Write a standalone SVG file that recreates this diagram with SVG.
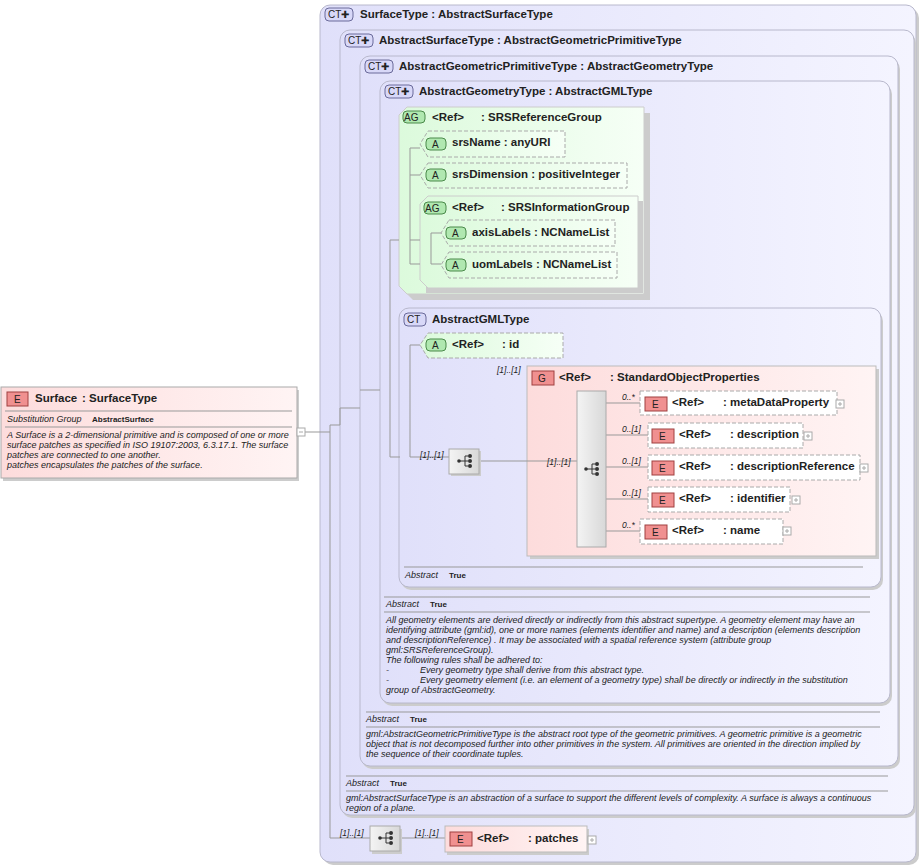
<svg xmlns="http://www.w3.org/2000/svg" width="920" height="866" viewBox="0 0 920 866">
<defs>
<linearGradient id="ct" x1="0" y1="0" x2="1" y2="0"><stop offset="0" stop-color="#e0e0fa"/><stop offset="1" stop-color="#f4f4ff"/></linearGradient>
<linearGradient id="gr" x1="0" y1="0" x2="1" y2="0"><stop offset="0" stop-color="#dcfadc"/><stop offset="1" stop-color="#f6fff6"/></linearGradient>
<linearGradient id="rd" x1="0" y1="0" x2="1" y2="0"><stop offset="0" stop-color="#fddcdc"/><stop offset="1" stop-color="#fff4f4"/></linearGradient>
<linearGradient id="sq" x1="0" y1="0" x2="1" y2="0"><stop offset="0" stop-color="#f4f4f4"/><stop offset="1" stop-color="#d8d8d8"/></linearGradient>
<g id="seqico"><circle cx="-6" cy="0" r="1.8" fill="#333"/><path d="M-6 0H0M0 -5V5M0 -5H3M0 0H3M0 5H3" stroke="#333" fill="none"/><circle cx="5" cy="-5" r="2" fill="#333"/><circle cx="5" cy="0" r="2" fill="#333"/><circle cx="5" cy="5" r="2" fill="#333"/></g>
<g id="plus"><rect x="0" y="0" width="8" height="8" fill="#fff" stroke="#aaa"/><path d="M2 4H6M4 2V6" stroke="#aaa"/></g>
</defs>
<style>
text{font-family:"Liberation Sans",Arial,sans-serif;fill:#222}
.h{font-size:11.5px;font-weight:bold}
.d{font-size:9px;font-style:italic}
.m{font-size:8.5px;font-style:italic}
.ct{fill:url(#ct);stroke:#b8b8cc}
.ln{stroke:#999;fill:none}
.sep{stroke:#999}
.ag{fill:url(#gr);stroke:#ccc}
.att{fill:url(#gr);stroke:#aaa;stroke-dasharray:4 2}
.el{fill:#fff;stroke:#aaa;stroke-dasharray:4 2}
.bc{fill:#d8d8f8;stroke:#6a6a9a}
.bg{fill:#b0e8b0;stroke:#4a8a4a}
.be{fill:#f09090;stroke:#a04040}
.bt{font-size:10px;font-weight:normal}
.sh{fill:#ccc}
</style>

<g id="SurfaceType">
<rect x="323" y="8" width="596" height="857" rx="10" class="sh"/>
<rect x="320" y="5" width="596" height="857" rx="10" class="ct"/>
<rect x="325" y="8" width="28" height="13" rx="4" class="bc"/><text x="328" y="18" class="h bt">CT✚</text>
<text x="360" y="18" class="h">SurfaceType : AbstractSurfaceType</text>
</g>

<g id="AbstractSurfaceType">
<rect x="342" y="33" width="574" height="785" rx="10" class="sh"/>
<rect x="340" y="30" width="574" height="785" rx="10" class="ct"/>
<rect x="345" y="34" width="28" height="13" rx="4" class="bc"/><text x="348" y="44" class="h bt">CT✚</text>
<text x="379" y="44" class="h">AbstractSurfaceType : AbstractGeometricPrimitiveType</text>
<line x1="346" y1="776" x2="888" y2="776" class="sep"/>
<text x="346" y="786" class="d">Abstract</text><text x="390" y="786" class="h" style="font-size:8px">True</text>
<line x1="346" y1="791" x2="888" y2="791" class="sep"/>
<text x="346" y="801" class="d">gml:AbstractSurfaceType is an abstraction of a surface to support the different levels of complexity. A surface is always a continuous</text>
<text x="346" y="811" class="d">region of a plane.</text>
</g>

<g id="AbstractGeometricPrimitiveType">
<rect x="362" y="59" width="538" height="710" rx="10" class="sh"/>
<rect x="360" y="56" width="538" height="710" rx="10" class="ct"/>
<rect x="365" y="60" width="28" height="13" rx="4" class="bc"/><text x="368" y="70" class="h bt">CT✚</text>
<text x="399" y="70" class="h">AbstractGeometricPrimitiveType : AbstractGeometryType</text>
<line x1="366" y1="712" x2="880" y2="712" class="sep"/>
<text x="366" y="722" class="d">Abstract</text><text x="410" y="722" class="h" style="font-size:8px">True</text>
<line x1="366" y1="727" x2="880" y2="727" class="sep"/>
<text x="366" y="737" class="d">gml:AbstractGeometricPrimitiveType is the abstract root type of the geometric primitives. A geometric primitive is a geometric</text>
<text x="366" y="747" class="d">object that is not decomposed further into other primitives in the system. All primitives are oriented in the direction implied by</text>
<text x="366" y="757" class="d">the sequence of their coordinate tuples.</text>
</g>

<g id="AbstractGeometryType">
<rect x="382" y="84" width="510" height="622" rx="10" class="sh"/>
<rect x="380" y="81" width="510" height="622" rx="10" class="ct"/>
<rect x="385" y="85" width="28" height="13" rx="4" class="bc"/><text x="388" y="95" class="h bt">CT✚</text>
<text x="419" y="95" class="h">AbstractGeometryType : AbstractGMLType</text>
<line x1="384" y1="597" x2="870" y2="597" class="sep"/>
<text x="386" y="607" class="d">Abstract</text><text x="430" y="607" class="h" style="font-size:8px">True</text>
<line x1="384" y1="612" x2="870" y2="612" class="sep"/>
<text x="386" y="623" class="d">All geometry elements are derived directly or indirectly from this abstract supertype. A geometry element may have an</text>
<text x="386" y="633" class="d">identifying attribute (gml:id), one or more names (elements identifier and name) and a description (elements description</text>
<text x="386" y="643" class="d">and descriptionReference) . It may be associated with a spatial reference system (attribute group</text>
<text x="386" y="653" class="d">gml:SRSReferenceGroup).</text>
<text x="386" y="663" class="d">The following rules shall be adhered to:</text>
<text x="386" y="673" class="d">-</text><text x="420" y="673" class="d">Every geometry type shall derive from this abstract type.</text>
<text x="386" y="683" class="d">-</text><text x="420" y="683" class="d">Every geometry element (i.e. an element of a geometry type) shall be directly or indirectly in the substitution</text>
<text x="386" y="693" class="d">group of AbstractGeometry.</text>
</g>

<g id="SRSReferenceGroup">
<path d="M405 113H650V300H413L405 292Z" class="sh"/>
<path d="M407 107H644V294H407L399 286V115Z" class="ag"/>
<rect x="403" y="111" width="22" height="12" rx="4" class="bg"/><text x="404" y="121" class="h bt">AG</text>
<text x="432" y="121" class="h">&lt;Ref&gt;</text><text x="481" y="121" class="h">: SRSReferenceGroup</text>
</g>
<g id="SRSInformationGroup">
<path d="M426 201H643V293H426Z" class="sh"/>
<path d="M428 196H638V288H428L420 280V204Z" class="ag"/>
<rect x="424" y="202" width="22" height="12" rx="4" class="bg"/><text x="425" y="212" class="h bt">AG</text>
<text x="452" y="211" class="h">&lt;Ref&gt;</text><text x="501" y="211" class="h">: SRSInformationGroup</text>
</g>

<g id="AbstractGMLType">
<rect x="401" y="311" width="482" height="279" rx="10" class="sh"/>
<rect x="399" y="308" width="482" height="279" rx="10" class="ct"/>
<rect x="404" y="313" width="22" height="13" rx="4" class="bc"/><text x="407" y="323" class="h bt">CT</text>
<text x="432" y="323" class="h">AbstractGMLType</text>
<line x1="404" y1="567" x2="863" y2="567" class="sep"/>
<text x="405" y="578" class="d">Abstract</text><text x="449" y="578" class="h" style="font-size:8px">True</text>
</g>

<g id="StandardObjectProperties">
<rect x="530" y="369" width="349" height="190" class="sh"/>
<rect x="527" y="366" width="349" height="190" fill="url(#rd)" stroke="#bbb"/>
<rect x="532" y="371" width="22" height="14" class="be"/><text x="538" y="382" class="h bt">G</text>
<text x="559" y="381" class="h">&lt;Ref&gt;</text><text x="610" y="381" class="h">: StandardObjectProperties</text>
<text x="497" y="373" class="m">[1]..[1]</text>
</g>

<g id="connectors">
<path class="ln" d="M305 432H330M330 425V838H370M330 425H340M340 408V425M340 408H360M360 390H380M390 240V457H400M390 240H399M410 345V457H449M410 345H420M410 148V264H420M410 148H420M410 175H420M410 240H420M431 233V264H441M431 233H441M479 461H577M606 403H640M606 435H648M606 467H648M606 499H648M606 531H640M400 838H445"/>
</g>

<g id="srsName">
<path d="M428 131H565V157H428L420 144Z" class="att"/>
<rect x="426" y="138" width="20" height="12" rx="4" class="bg"/><text x="432" y="148" class="h bt">A</text>
<text x="452" y="146" class="h">srsName : anyURI</text>
</g>
<g id="srsDimension">
<path d="M428 163H627V188H428L420 175Z" class="att"/>
<rect x="426" y="169" width="20" height="12" rx="4" class="bg"/><text x="432" y="179" class="h bt">A</text>
<text x="452" y="178" class="h">srsDimension : positiveInteger</text>
</g>
<g id="axisLabels">
<path d="M449 220H615V246H449L441 233Z" class="att"/>
<rect x="446" y="227" width="20" height="12" rx="4" class="bg"/><text x="452" y="237" class="h bt">A</text>
<text x="472" y="236" class="h">axisLabels : NCNameList</text>
</g>
<g id="uomLabels">
<path d="M449 252H617V278H449L441 265Z" class="att"/>
<rect x="446" y="259" width="20" height="12" rx="4" class="bg"/><text x="452" y="269" class="h bt">A</text>
<text x="472" y="268" class="h">uomLabels : NCNameList</text>
</g>
<g id="id">
<path d="M428 333H563V358H428L420 345Z" class="att"/>
<rect x="426" y="339" width="20" height="12" rx="4" class="bg"/><text x="432" y="349" class="h bt">A</text>
<text x="452" y="348" class="h">&lt;Ref&gt;</text><text x="502" y="348" class="h">: id</text>
</g>

<g id="seq1">
<rect x="451" y="451" width="30" height="25" class="sh"/>
<rect x="449" y="449" width="30" height="25" fill="url(#sq)" stroke="#aaa"/>
<use href="#seqico" x="465" y="461"/>
<text x="420" y="458" class="m">[1]..[1]</text>
</g>
<g id="seq-inner">
<rect x="577" y="391" width="29" height="156" fill="url(#sq)" stroke="#aaa"/>
<use href="#seqico" x="592" y="469"/>
<text x="547" y="465" class="m">[1]..[1]</text>
</g>

<g id="metaDataProperty">
<rect x="640" y="391" width="197" height="24" class="el"/>
<rect x="645" y="397" width="22" height="14" class="be"/><text x="652" y="408" class="h bt">E</text>
<text x="672" y="406" class="h">&lt;Ref&gt;</text><text x="723" y="406" class="h">: metaDataProperty</text>
<use href="#plus" x="836" y="400"/><text x="622" y="400" class="m">0..*</text>
</g>
<g id="description">
<rect x="648" y="423" width="155" height="25" class="el"/>
<rect x="652" y="429" width="22" height="14" class="be"/><text x="659" y="440" class="h bt">E</text>
<text x="679" y="438" class="h">&lt;Ref&gt;</text><text x="730" y="438" class="h">: description</text>
<use href="#plus" x="804" y="432"/><text x="622" y="432" class="m">0..[1]</text>
</g>
<g id="descriptionReference">
<rect x="648" y="455" width="212" height="25" class="el"/>
<rect x="652" y="461" width="22" height="14" class="be"/><text x="659" y="472" class="h bt">E</text>
<text x="679" y="470" class="h">&lt;Ref&gt;</text><text x="730" y="470" class="h">: descriptionReference</text>
<use href="#plus" x="860" y="464"/><text x="622" y="464" class="m">0..[1]</text>
</g>
<g id="identifier">
<rect x="648" y="487" width="142" height="25" class="el"/>
<rect x="652" y="493" width="22" height="14" class="be"/><text x="659" y="504" class="h bt">E</text>
<text x="679" y="502" class="h">&lt;Ref&gt;</text><text x="730" y="502" class="h">: identifier</text>
<use href="#plus" x="792" y="496"/><text x="622" y="496" class="m">0..[1]</text>
</g>
<g id="name">
<rect x="640" y="519" width="143" height="25" class="el"/>
<rect x="645" y="525" width="22" height="14" class="be"/><text x="652" y="536" class="h bt">E</text>
<text x="672" y="534" class="h">&lt;Ref&gt;</text><text x="723" y="534" class="h">: name</text>
<use href="#plus" x="783" y="527"/><text x="622" y="528" class="m">0..*</text>
</g>

<g id="seq2">
<rect x="372" y="829" width="30" height="25" class="sh"/>
<rect x="370" y="826" width="30" height="25" fill="url(#sq)" stroke="#aaa"/>
<use href="#seqico" x="386" y="838"/>
<text x="340" y="836" class="m">[1]..[1]</text>
</g>
<g id="patches">
<rect x="447" y="829" width="142" height="26" class="sh"/>
<rect x="445" y="826" width="142" height="26" fill="url(#rd)" stroke="#bbb"/>
<rect x="450" y="832" width="22" height="14" class="be"/><text x="457" y="843" class="h bt">E</text>
<text x="477" y="842" class="h">&lt;Ref&gt;</text><text x="528" y="842" class="h">: patches</text>
<use href="#plus" x="588" y="836"/><text x="415" y="836" class="m">[1]..[1]</text>
</g>

<g id="Surface">
<rect x="3" y="390" width="296" height="91" class="sh"/>
<rect x="1" y="387" width="296" height="91" fill="url(#rd)" stroke="#aaa"/>
<rect x="7" y="392" width="21" height="14" class="be"/><text x="14" y="403" class="h bt">E</text>
<text x="35" y="402" class="h">Surface</text><text x="82" y="402" class="h">: SurfaceType</text>
<line x1="5" y1="411" x2="292" y2="411" class="sep"/>
<text x="7" y="422" class="d">Substitution Group</text><text x="92" y="422" class="h" style="font-size:8px">AbstractSurface</text>
<line x1="5" y1="427" x2="292" y2="427" class="sep"/>
<text x="7" y="438" class="d">A Surface is a 2-dimensional primitive and is composed of one or more</text>
<text x="7" y="448" class="d">surface patches as specified in ISO 19107:2003, 6.3.17.1. The surface</text>
<text x="7" y="458" class="d">patches are connected to one another.</text>
<text x="7" y="468" class="d">patches encapsulates the patches of the surface.</text>
<rect x="297" y="428" width="8" height="8" fill="#fff" stroke="#aaa"/><path d="M299 432H303" stroke="#aaa"/>
</g>
</svg>
